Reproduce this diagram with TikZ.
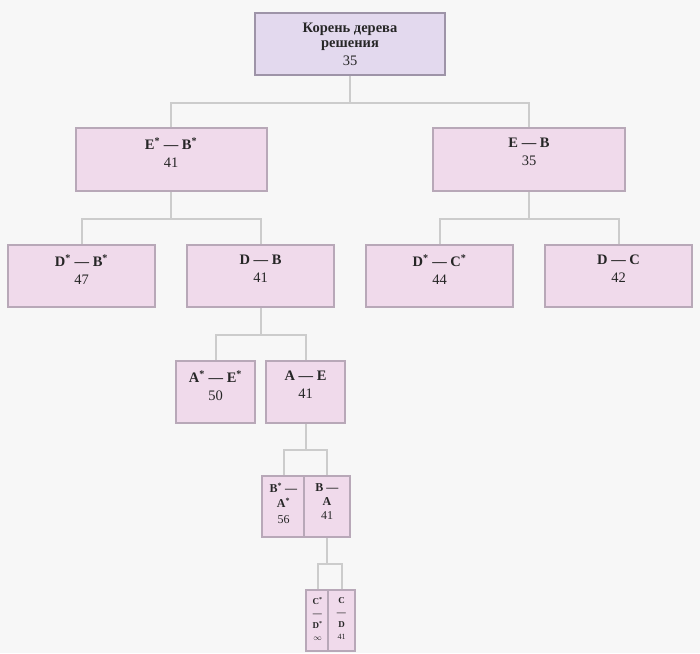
\documentclass[tikz,border=0pt]{standalone}
\usepackage{fontspec}
\setmainfont{Liberation Serif}
\usepackage{tikz}
\definecolor{bg1}{HTML}{F7F7F7}
\definecolor{pink1}{HTML}{F0DAEB}
\definecolor{lilac1}{HTML}{E3D9EE}
\definecolor{edge1}{HTML}{B8A8B8}
\definecolor{edge2}{HTML}{9E94A8}
\definecolor{link1}{HTML}{CCCCCC}
\definecolor{ink1}{HTML}{262626}

\begin{document}
\begin{tikzpicture}[x=1pt,y=-1pt,
  box/.style={draw=edge1,fill=pink1,line width=2pt,anchor=north,inner sep=0pt},
  rootbox/.style={box,draw=edge2,fill=lilac1},
  lbl/.style={anchor=north,inner sep=0pt,align=center,text=ink1},
  txt/.style={lbl,yshift=-10.5pt,font=\fontsize{14.5}{15}\selectfont},
  midtxt/.style={lbl,yshift=-8pt,font=\fontsize{12}{14}\selectfont},
  tinytxt/.style={lbl,yshift=-8pt,font=\fontsize{9}{12}\selectfont},
  link/.style={draw=link1,line width=2pt}]
\fill[bg1] (0,0) rectangle (700,653);
% level 0
\node[rootbox,minimum width=190pt,minimum height=62pt,
  label={[txt]north:{\textbf{Корень дерева}\\\textbf{решения}\\[3pt]35}}] (root) at (350,12) {};
% level 1
\node[box,minimum width=191pt,minimum height=63pt,
  label={[txt]north:{\textbf{E\textsuperscript{*} — B\textsuperscript{*}}\\[3pt]41}}] (ebs) at (171,127) {};
\node[box,minimum width=192pt,minimum height=63pt,
  label={[txt]north:{\textbf{E — B}\\[3pt]35}}] (eb) at (529,127) {};
% level 2
\node[box,minimum width=147pt,minimum height=62pt,
  label={[txt]north:{\textbf{D\textsuperscript{*} — B\textsuperscript{*}}\\[3pt]47}}] (dbs) at (81.5,244) {};
\node[box,minimum width=147pt,minimum height=62pt,
  label={[txt]north:{\textbf{D — B}\\[3pt]41}}] (db) at (260.5,244) {};
\node[box,minimum width=147pt,minimum height=62pt,
  label={[txt]north:{\textbf{D\textsuperscript{*} — C\textsuperscript{*}}\\[3pt]44}}] (dcs) at (439.5,244) {};
\node[box,minimum width=147pt,minimum height=62pt,
  label={[txt]north:{\textbf{D — C}\\[3pt]42}}] (dc) at (618.5,244) {};
% level 3
\node[box,minimum width=79pt,minimum height=62pt,
  label={[txt]north:{\textbf{A\textsuperscript{*} — E\textsuperscript{*}}\\[3pt]50}}] (aes) at (215.5,360) {};
\node[box,minimum width=79pt,minimum height=62pt,
  label={[txt]north:{\textbf{A — E}\\[3pt]41}}] (ae) at (305.5,360) {};
% level 4
\node[box,minimum width=43pt,minimum height=61pt,
  label={[midtxt]north:{\textbf{B\textsuperscript{*} —}\\[1pt]\textbf{A\textsuperscript{*}}\\[2pt]56}}] (bas) at (283.5,475) {};
\node[box,minimum width=46pt,minimum height=61pt,
  label={[midtxt]north:{\textbf{B —}\\\textbf{A}\\41}}] (ba) at (327,475) {};
% level 5
\node[box,minimum width=23pt,minimum height=61pt,
  label={[tinytxt]north:{\textbf{C\textsuperscript{*}}\\\textbf{—}\\\textbf{D\textsuperscript{*}}\\{\fontsize{8}{8}\selectfont$\infty$}}}] (cds) at (317.5,589) {};
\node[box,minimum width=27pt,minimum height=61pt,
  label={[tinytxt]north:{\textbf{C}\\\textbf{—}\\\textbf{D}\\{\fontsize{8}{8}\selectfont 41}}}] (cd) at (341.5,589) {};
% connectors
\draw[link] (root.south) -- ++(0,27) -| (ebs.north);
\draw[link] (root.south) -- ++(0,27) -| (eb.north);
\draw[link] (ebs.south) -- ++(0,27) -| (dbs.north);
\draw[link] (ebs.south) -- ++(0,27) -| (db.north);
\draw[link] (eb.south) -- ++(0,27) -| (dcs.north);
\draw[link] (eb.south) -- ++(0,27) -| (dc.north);
\draw[link] (db.south) -- ++(0,27) -| (aes.north);
\draw[link] (db.south) -- ++(0,27) -| (ae.north);
\draw[link] (ae.south) -- ++(0,26) -| (bas.north);
\draw[link] (ae.south) -- ++(0,26) -| (ba.north);
\draw[link] (ba.south) -- ++(0,26) -| (cds.north);
\draw[link] (ba.south) -- ++(0,26) -| (cd.north);
\end{tikzpicture}
\end{document}
